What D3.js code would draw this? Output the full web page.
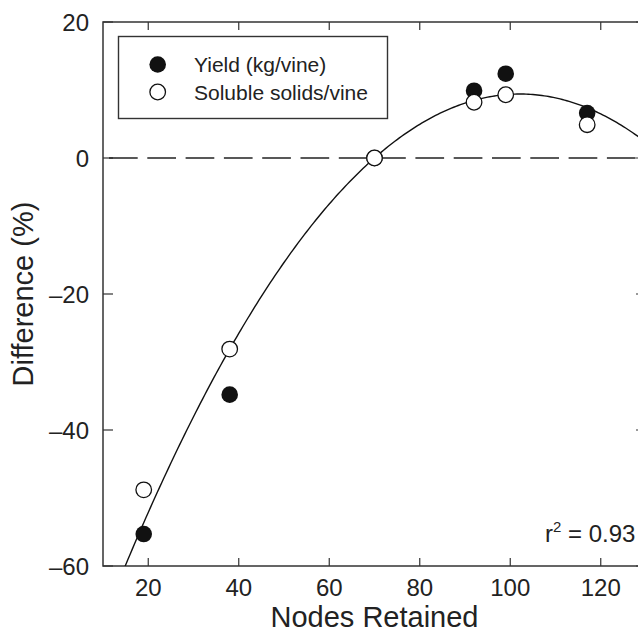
<!DOCTYPE html>
<html>
<head>
<meta charset="utf-8">
<script src="https://cdn.jsdelivr.net/npm/d3@7"></script>
<style>
  body { margin: 0; background: #fff; overflow: hidden; }
  svg { display: block; font-family: Arial, "Liberation Sans", sans-serif; }
</style>
</head>
<body>
<svg width="638" height="633"></svg>
<script>
const nodes = [19, 38, 70, 92, 99, 117]
const yieldDiff = [-55.3, -34.8, 0, 9.9, 12.4, 6.6]
const solidsDiff = [-48.8, -28.1, 0, 8.2, 9.3, 4.9]
// quadratic fit: y = b0 + b1*x + b2*x^2
const fitCoef = [-85.76, 1.8643, -0.00913]
const xTicks = [20, 40, 60, 80, 100, 120]
const yTicks = [20, 0, -20, -40, -60]
const legendLabels = ["Yield (kg/vine)", "Soluble solids/vine"]

const margin = { left: 103, top: 22, right: 646, bottom: 566 }
const svg = d3.select("svg")

const x = d3.scaleLinear().domain([10, 130]).range([margin.left, margin.right])
const y = d3.scaleLinear().domain([-60, 20]).range([margin.bottom, margin.top])

const axisColor = "#333"

svg.append("clipPath").attr("id", "plot")
  .append("rect")
  .attr("x", margin.left).attr("y", margin.top)
  .attr("width", margin.right - margin.left).attr("height", margin.bottom - margin.top)

// frame
svg.append("rect")
  .attr("x", margin.left).attr("y", margin.top)
  .attr("width", margin.right - margin.left).attr("height", margin.bottom - margin.top)
  .attr("fill", "none").attr("stroke", axisColor).attr("stroke-width", 1.5)

// inward ticks
const tickLen = 8
xTicks.forEach(t => {
  svg.append("line").attr("x1", x(t)).attr("x2", x(t)).attr("y1", margin.bottom).attr("y2", margin.bottom - tickLen)
    .attr("stroke", axisColor).attr("stroke-width", 1.2)
  svg.append("line").attr("x1", x(t)).attr("x2", x(t)).attr("y1", margin.top).attr("y2", margin.top + tickLen)
    .attr("stroke", axisColor).attr("stroke-width", 1.2)
})
yTicks.forEach(t => {
  svg.append("line").attr("x1", margin.left).attr("x2", margin.left + 10).attr("y1", y(t)).attr("y2", y(t))
    .attr("stroke", axisColor).attr("stroke-width", 1.2)
  svg.append("line").attr("x1", margin.right).attr("x2", margin.right - 10).attr("y1", y(t)).attr("y2", y(t))
    .attr("stroke", axisColor).attr("stroke-width", 1.2)
})

// tick labels
svg.selectAll(".xl").data(xTicks).enter().append("text")
  .attr("x", d => x(d)).attr("y", 596)
  .attr("text-anchor", "middle").attr("font-size", 24).attr("fill", "#222")
  .text(d => d)
svg.selectAll(".yl").data(yTicks).enter().append("text")
  .attr("x", 89).attr("y", d => y(d) + 8.5)
  .attr("text-anchor", "end").attr("font-size", 24).attr("fill", "#222")
  .text(d => d < 0 ? "\u2013" + Math.abs(d) : d)

// axis titles
svg.append("text")
  .attr("x", (margin.left + margin.right) / 2).attr("y", 627)
  .attr("text-anchor", "middle").attr("font-size", 29).attr("fill", "#222")
  .text("Nodes Retained")
svg.append("text")
  .attr("transform", `translate(33,${(margin.top + margin.bottom) / 2}) rotate(-90)`)
  .attr("text-anchor", "middle").attr("font-size", 29).attr("fill", "#222")
  .text("Difference (%)")

// zero reference line
svg.append("line")
  .attr("x1", margin.left).attr("x2", margin.right).attr("y1", y(0)).attr("y2", y(0))
  .attr("stroke", "#222").attr("stroke-width", 1.3).attr("stroke-dasharray", "28.7,9.6")
  .attr("stroke-dashoffset", 32.3)

// fitted curve
const curveX = d3.range(10, 130.5, 0.5)
const line = d3.line()
  .x(d => x(d))
  .y(d => y(fitCoef[0] + fitCoef[1] * d + fitCoef[2] * d * d))
svg.append("path")
  .datum(curveX)
  .attr("clip-path", "url(#plot)")
  .attr("d", line)
  .attr("fill", "none").attr("stroke", "#111").attr("stroke-width", 1.4)

// points
const r = 8.3
svg.selectAll(".yp").data(nodes).enter().append("circle")
  .attr("cx", d => x(d)).attr("cy", (d, i) => y(yieldDiff[i]))
  .attr("r", r).attr("fill", "#111")
svg.selectAll(".sp").data(nodes).enter().append("circle")
  .attr("cx", d => x(d)).attr("cy", (d, i) => y(solidsDiff[i]))
  .attr("r", r - 0.5).attr("fill", "#fff").attr("stroke", "#111").attr("stroke-width", 1.3)

// r squared
const rt = svg.append("text")
  .attr("x", 545).attr("y", 542).attr("font-size", 24).attr("fill", "#222")
rt.append("tspan").text("r")
rt.append("tspan").attr("font-size", 15).attr("dy", -10).text("2")
rt.append("tspan").attr("dy", 10).text(" = 0.93")

// legend
const lg = svg.append("g")
lg.append("rect")
  .attr("x", 118.5).attr("y", 36.5).attr("width", 269).attr("height", 82)
  .attr("fill", "#fff").attr("stroke", axisColor).attr("stroke-width", 1.4)
legendLabels.forEach((lab, i) => {
  const cy = 64.5 + i * 27.5
  lg.append("circle").attr("cx", 157.7).attr("cy", cy).attr("r", i === 0 ? r : r - 0.5)
    .attr("fill", i === 0 ? "#111" : "#fff").attr("stroke", "#111").attr("stroke-width", i === 0 ? 0 : 1.3)
  lg.append("text").attr("x", 194).attr("y", cy + 7.5).attr("font-size", 21).attr("fill", "#222").text(lab)
})
</script>
</body>
</html>
